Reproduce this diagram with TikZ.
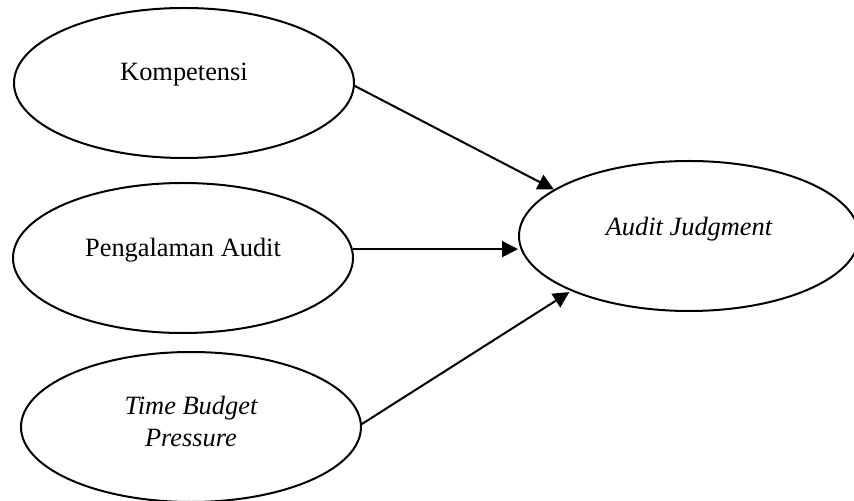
\documentclass[tikz,border=0pt]{standalone}
\usepackage{fontspec}
\setmainfont{Liberation Serif}
\usetikzlibrary{arrows.meta,shapes.geometric}

\begin{document}
\begin{tikzpicture}[>={Triangle[length=8pt,width=8pt]}, x=0.5pt, y=-0.5pt]
		\tikzset{
			var/.style={ellipse, draw=black, line width=1pt, minimum width=170pt, minimum height=75pt, inner sep=0pt},
			txt/.style={yshift=4pt, align=center, font=\fontsize{13.2}{16}\selectfont},
			arr/.style={->, line width=1pt},
		}
		\useasboundingbox (0,0) rectangle (854,501);
		\node[var, label={[txt]center:Kompetensi}] (K) at (184,83) {};
		\node[var, label={[txt]center:Pengalaman Audit}] (P) at (183,258) {};
		\node[var, label={[txt, yshift=-1pt]center:\itshape Time Budget\\\itshape Pressure}] (T) at (191,427) {};
		\node[var, label={[txt, yshift=-0.5pt]center:\itshape Audit Judgment}] (AJ) at (689,236) {};
		
		\draw[arr] (K.-1.5) -- (AJ.161);
		\draw[arr] (P.3.7) -- (P.3.7 -| AJ.west);
		\draw[arr, shorten >=1pt] (T.1) -- (AJ.205);
	\end{tikzpicture}
\end{document}
